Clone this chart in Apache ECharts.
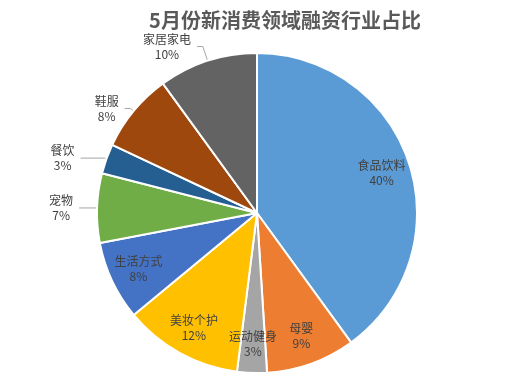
<!DOCTYPE html>
<html><head><meta charset="utf-8">
<script src="https://cdn.jsdelivr.net/npm/echarts@6/dist/echarts.min.js"></script>
<style>html,body{margin:0;padding:0;background:#fff}#c{width:514px;height:388px}</style>
</head><body><div id="c"></div>
<script>
var categories = ['食品饮料','母婴','运动健身','美妆个护','生活方式','宠物','餐饮','鞋服','家居家电'];
var values = [40, 9, 3, 12, 8, 7, 3, 8, 10];
var colors = ['#5B9BD5','#ED7D31','#A5A5A5','#FFC000','#4472C4','#70AD47','#255E91','#9E480E','#636363'];
var insideLabels = ['食品饮料','母婴','运动健身','美妆个护','生活方式'];
var leader = {'家居家电':[15,6],'鞋服':[4,6],'餐饮':[2,24],'宠物':[1,17]};

var font = '"Noto Sans CJK SC", "Microsoft YaHei", sans-serif';
var txt = {fontFamily:font, fontSize:12, color:'#404040', lineHeight:15, align:'center'};
var mainData = categories.map(function(n,i){
  var isIn = insideLabels.indexOf(n) >= 0;
  var d = {name:n, value:values[i], itemStyle:{color:colors[i]}};
  if (isIn) { d.label = {show:false}; d.labelLine = {show:false}; }
  else { d.labelLine = {show:true, length:leader[n][0], length2:leader[n][1]}; }
  return d;
});
var labelData = categories.map(function(n,i){
  var isIn = insideLabels.indexOf(n) >= 0;
  return {name:n, value:values[i], label:{show:isIn}};
});
var chart = echarts.init(document.getElementById('c'));
chart.setOption({
  animation:false,
  title:{text:'5月份新消费领域融资行业占比', left:280, top:5, textAlign:'center',
    textStyle:{fontFamily:font, fontSize:20, fontWeight:'bold', color:'#595959'}},
  series:[{
    type:'pie', center:[257,213], radius:[0,160], startAngle:90, clockwise:true,
    avoidLabelOverlap:false,
    itemStyle:{borderColor:'#fff', borderWidth:2},
    label:{show:true, position:'outside', formatter:'{a|{b}}\n{a|{c}%}', fontFamily:font, fontSize:12,
      color:'#404040', lineHeight:15, distanceToLabelLine:6, rich:{a:txt}},
    labelLine:{lineStyle:{color:'#A6A6A6', width:1}, smooth:false},
    data:mainData
  },{
    type:'pie', center:[257,213], radius:[96,160], startAngle:90, clockwise:true, silent:true,
    avoidLabelOverlap:false, z:5,
    itemStyle:{color:'rgba(0,0,0,0)', borderWidth:0},
    label:{position:'inside', formatter:'{b}\n{c}%', fontFamily:font, fontSize:12,
      color:'#404040', lineHeight:15},
    labelLine:{show:false},
    data:labelData
  }]
});
</script></body></html>
